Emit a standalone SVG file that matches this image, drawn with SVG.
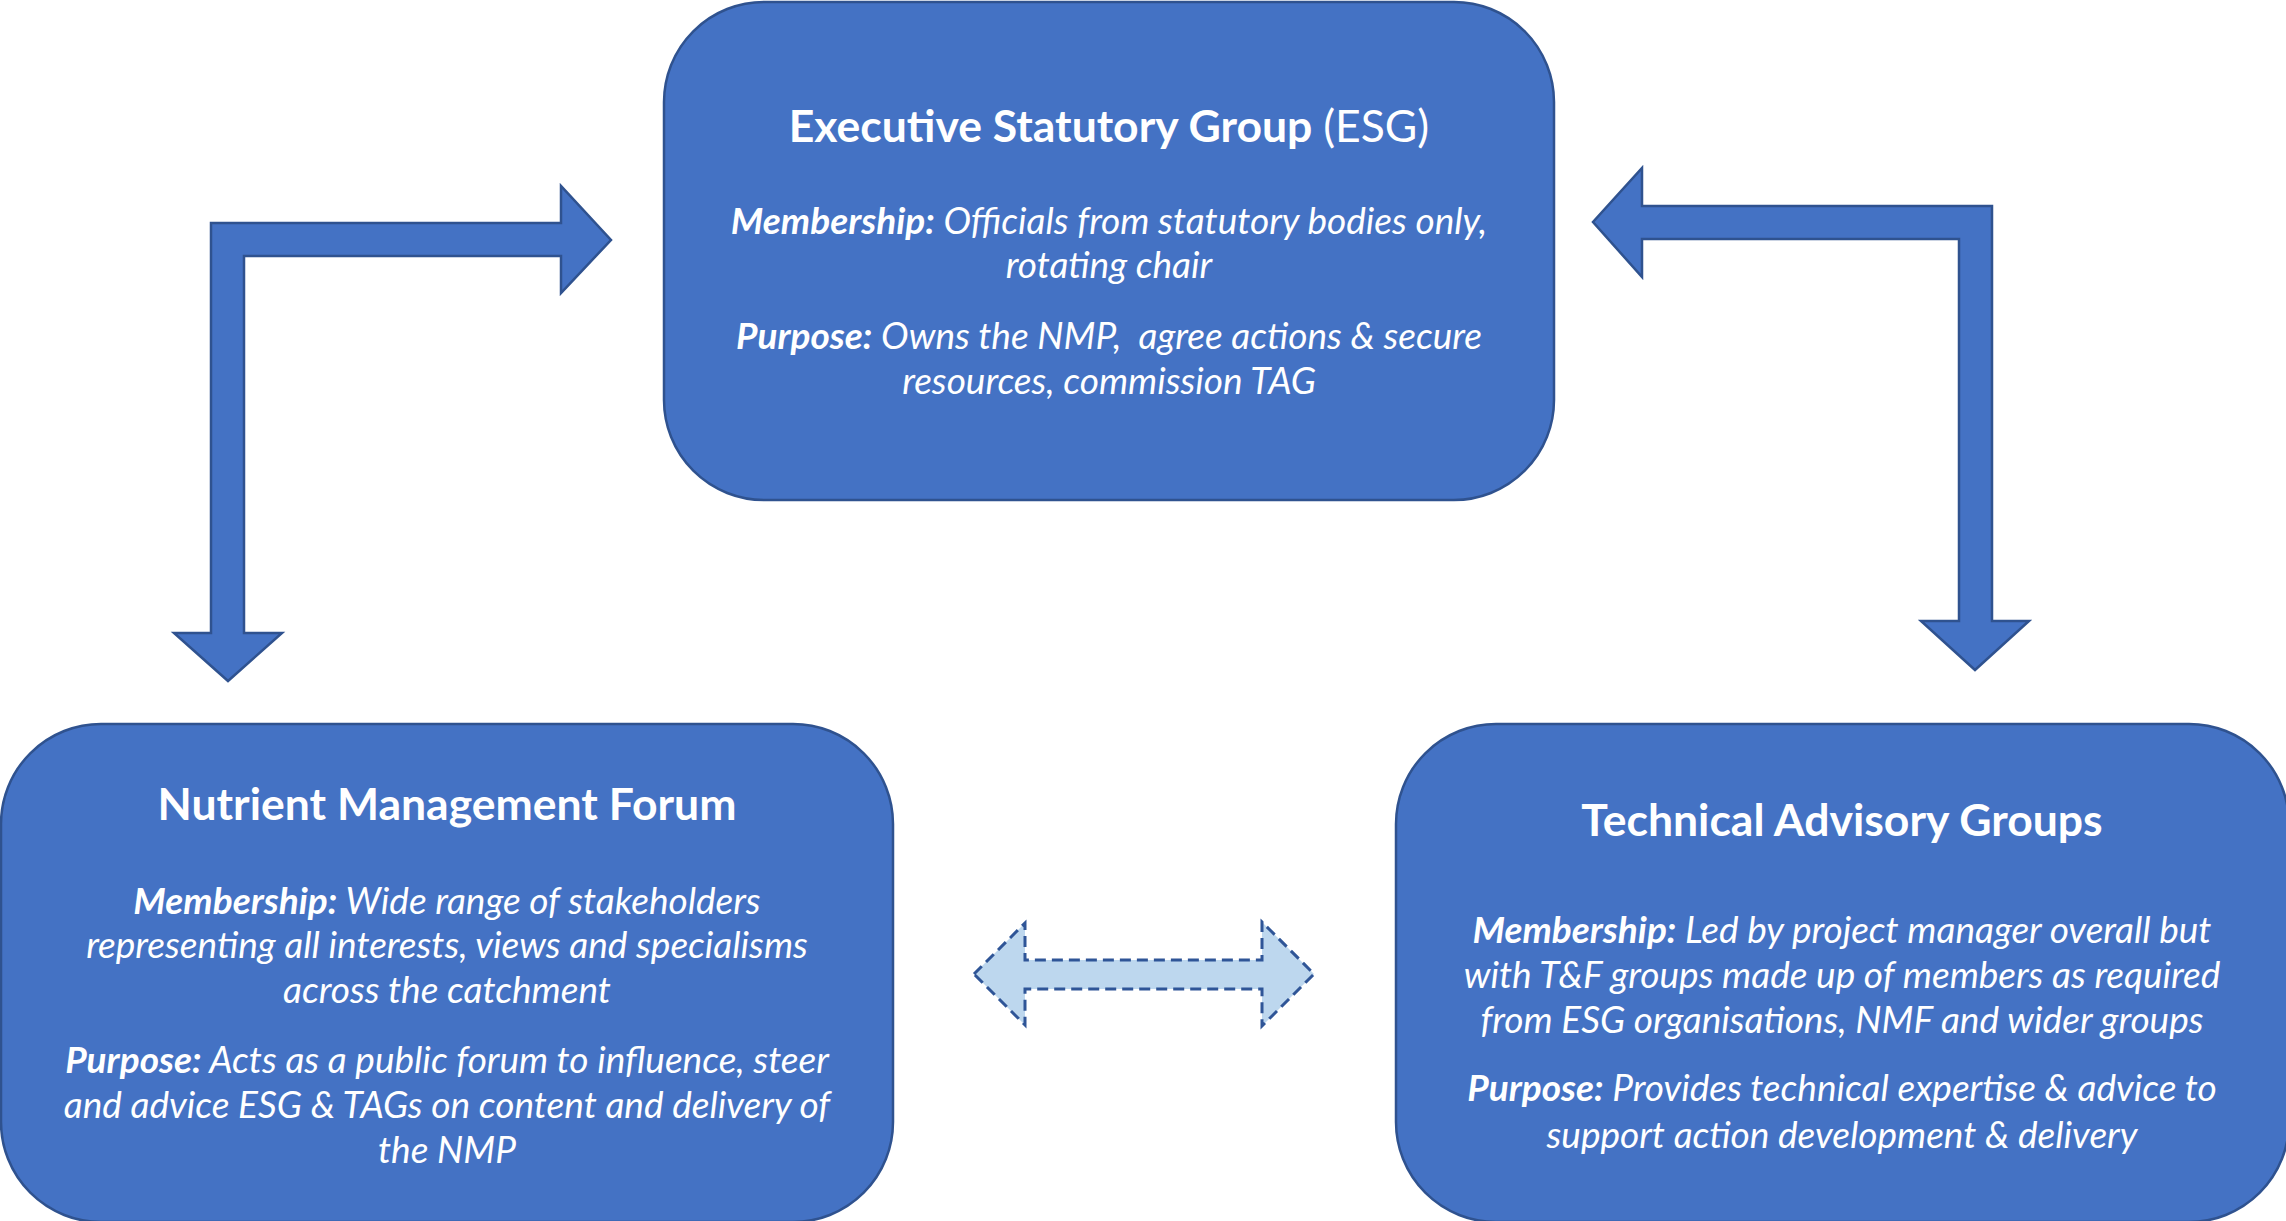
<svg xmlns="http://www.w3.org/2000/svg" width="2286" height="1221" viewBox="0 0 2286 1221">
<style>
.box{fill:#4472C4;stroke:#2F528F;stroke-width:2.5}
.arr{fill:#4472C4;stroke:#2F528F;stroke-width:2.5;stroke-linejoin:miter}
.darr{fill:#BDD7EE;stroke:#2F5597;stroke-width:3;stroke-dasharray:11 6}
text{font-family:Lato,"Open Sans","Liberation Sans",sans-serif;fill:#FFFFFF;text-anchor:middle}
.t{font-size:44.5px;font-weight:bold}
.b{font-size:37px;font-style:italic}
.k{font-weight:bold}
</style>
<rect width="2286" height="1221" fill="#FFFFFF"/>
<g id="connectors">
<polygon class="arr" points="211,223 561,223 561,186 611,240 561,293 561,256 244,256 244,633 282,633 228,681 174,633 211,633"/>
<polygon class="arr" points="1992,206 1642,206 1642,168 1593,222 1642,277 1642,239 1959,239 1959,621 1921,621 1975,670 2029,621 1992,621"/>
<polygon class="darr" points="974,974 1025,923 1025,960 1262,960 1262,922 1314,974 1262,1026 1262,989 1025,989 1025,1025"/>
</g>
<g id="esg">
<rect class="box" x="664" y="2" width="890" height="498" rx="100" ry="100"/>
<text class="t" x="1109" y="142">Executive Statutory Group <tspan font-weight="normal">(ESG)</tspan></text>
<text class="b" x="1109" y="234"><tspan class="k">Membership:</tspan> Officials from statutory bodies only,</text>
<text class="b" x="1109" y="278">rotating chair</text>
<text class="b" x="1109" y="349" xml:space="preserve"><tspan class="k">Purpose:</tspan> Owns the NMP,  agree actions &amp; secure</text>
<text class="b" x="1109" y="394">resources, commission TAG</text>
</g>
<g id="nmf">
<rect class="box" x="1" y="724" width="892" height="498" rx="100" ry="100"/>
<text class="t" x="447" y="820">Nutrient Management Forum</text>
<text class="b" x="447" y="914"><tspan class="k">Membership:</tspan> Wide range of stakeholders</text>
<text class="b" x="447" y="958">representing all interests, views and specialisms</text>
<text class="b" x="447" y="1003">across the catchment</text>
<text class="b" x="447" y="1073"><tspan class="k">Purpose:</tspan> Acts as a public forum to influence, steer</text>
<text class="b" x="447" y="1118">and advice ESG &amp; TAGs on content and delivery of</text>
<text class="b" x="447" y="1163">the NMP</text>
</g>
<g id="tag">
<rect class="box" x="1396" y="724" width="893" height="498" rx="100" ry="100"/>
<text class="t" x="1842" y="836">Technical Advisory Groups</text>
<text class="b" x="1842" y="943"><tspan class="k">Membership:</tspan> Led by project manager overall but</text>
<text class="b" x="1842" y="988">with T&amp;F groups made up of members as required</text>
<text class="b" x="1842" y="1033">from ESG organisations, NMF and wider groups</text>
<text class="b" x="1842" y="1101"><tspan class="k">Purpose:</tspan> Provides technical expertise &amp; advice to</text>
<text class="b" x="1842" y="1148">support action development &amp; delivery</text>
</g>
</svg>
